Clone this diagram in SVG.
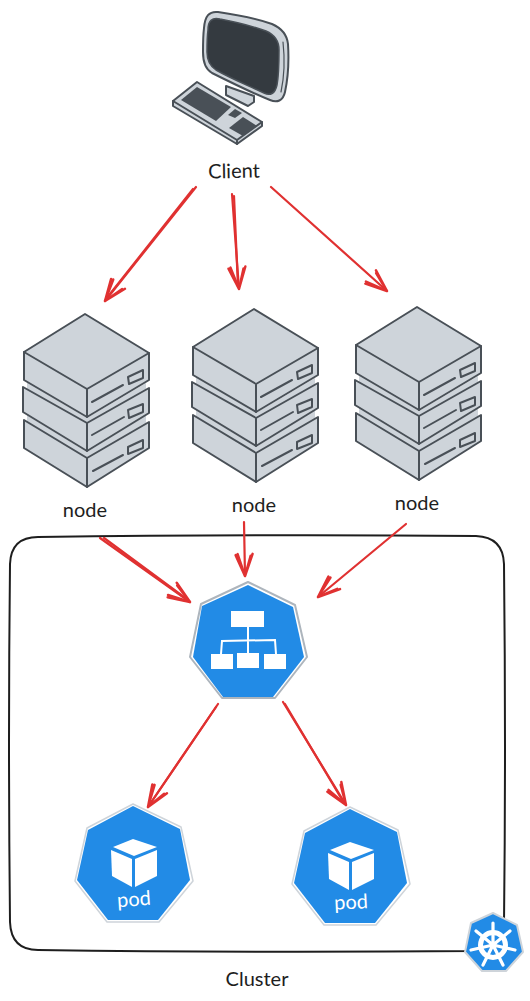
<svg xmlns="http://www.w3.org/2000/svg" xmlns:xlink="http://www.w3.org/1999/xlink" width="530" height="1001" viewBox="0 0 530 1001">
<style>
.lbl{font-family:"Lato","Liberation Sans",sans-serif;font-size:20px;fill:#1e1e1e;text-anchor:middle}
.podl{font-family:"Lato","Liberation Sans",sans-serif;font-size:20px;fill:#fff;text-anchor:middle}
.sv{fill:#ced4da;stroke:#495057;stroke-width:2;stroke-linejoin:round;stroke-linecap:round}
.svl{fill:none;stroke:#495057;stroke-width:2;stroke-linejoin:round;stroke-linecap:round}
.gap{fill:#ced4da}
.arrow{fill:none;stroke:#e03131;stroke-width:2.2;stroke-linecap:round;stroke-linejoin:round}
.blue{fill:#228be6}
.w{fill:#fff}
.wl{fill:none;stroke:#fff;stroke-width:2}
.edge{fill:none;stroke:#adb5bd;stroke-width:1.5;stroke-linejoin:round}
.dk{fill:#495057}
</style>
<defs>
<marker id="ah" viewBox="-24 -12 28 24" refX="0" refY="0" markerWidth="28" markerHeight="24" markerUnits="userSpaceOnUse" orient="auto" overflow="visible">
<path d="M-22,-8 L0,0 L-22,7 M-20,-6 L0,0 L-21,9" fill="none" stroke="#e03131" stroke-width="2.5" stroke-linecap="round" stroke-linejoin="round"/>
</marker>
<g id="server">
<path class="gap" d="M27,382L87,418L146,383L146,392L87,428L27,390Z"/>
<path class="gap" d="M27,415L87,452L146,415L146,425L87,462L27,424Z"/>
<path class="sv" d="M24,420 L87,458 L149,422 L149,448 L87,487 L24,448Z"/>
<path class="svl" d="M87,458V487M93,471L123,455"/>
<path class="sv" d="M128,447L143,440V448L128,454Z"/>
<path class="sv" d="M23,387 L87,423 L149,388 L149,413 L87,451 L23,412Z"/>
<path class="svl" d="M87,423V451M92,435L124,417"/>
<path class="sv" d="M128,410L143,404V412L129,418Z"/>
<path class="sv" d="M85,314 L149,353 L149,380 L87,417 L24,380 L24,352Z"/>
<path class="svl" d="M24,352L87,389L149,353M87,389V417M92,402L123,385"/>
<path class="sv" d="M128,377L143,370V378L129,384Z"/>
</g>
<g id="podicon">
<path class="edge" d="M133,804L181,827L193,881L159,922L107,922L75,881L87,828Z" style="stroke:#ced4da"/>
<path class="blue" d="M133,806L180,829L190,880L158,920L108,920L77,880L88,830Z"/>
<path class="w" d="M133,839L157,847L134,856L113,847Z"/>
<path class="w" d="M111,850L132,859V887L112,876Z"/>
<path class="w" d="M135,859L157,850V876L135,887Z"/>
</g>
</defs>

<g id="cluster"><path d="M38,537Q270,534 476,536Q503,537 504,564Q506,750 504,924Q503,950 476,951Q250,953 38,950Q11,950 10,922Q8,740 10,564Q11,537 38,537Z" fill="none" stroke="#1e1e1e" stroke-width="2"/></g>

<g id="client">
<path class="sv" d="M226,86V95L248,106L254,102L254,96Z"/>
<path d="M204,28C205,16 209,11 218,12C238,15 258,19 272,24C281,28 287,34 288,44C289,60 288,78 285,92C283,101 277,103 270,100C250,92 230,82 212,73C205,69 203,62 203,52C203,44 203,36 204,28Z" fill="#ced4da" stroke="#495057" stroke-width="2"/>
<path d="M208,30C208,21 212,17 220,19C236,22 252,26 266,31C275,35 279,41 279,50C279,62 279,74 277,85C275,94 270,96 264,93C247,85 230,78 216,70C210,66 207,60 207,52C207,44 207,37 208,30Z" fill="#343a40" stroke="#495057" stroke-width="1.5"/>
<path class="svl" style="stroke-width:1.2" d="M283,42C285,60 284,78 281,92"/>
<path class="sv" d="M197,82L262,122L262,126L237,144L173,106L173,101Z"/>
<path class="svl" d="M173,101L237,140L262,122M237,140V144"/>
<path class="dk" d="M181,100L197,87L231,107L216,121Z"/>
<path class="dk" d="M228,115L235,109L242,113L235,118Z"/>
<path class="dk" d="M229,128L243,117L257,126L243,136Z"/>
<text class="lbl" x="234" y="178" transform="rotate(-1 234 172)">Client</text>
</g>

<g id="node1"><use href="#server" xlink:href="#server"/><text class="lbl" x="85" y="517">node</text></g>
<g id="node2"><use href="#server" xlink:href="#server" transform="translate(169,-5)"/><text class="lbl" x="254" y="512">node</text></g>
<g id="node3"><use href="#server" xlink:href="#server" transform="translate(332,-7)"/><text class="lbl" x="417" y="510">node</text></g>

<g id="service">
<path d="M248,582L295,605L307,657L275,698L222,698L190,657L201,604Z" fill="#fff" stroke="#adb5bd" stroke-width="2" stroke-linejoin="round"/>
<path class="blue" d="M248,585L293,607L304,657L273,697L223,697L193,657L202,606Z"/>
<rect class="w" x="231" y="611" width="33" height="16"/>
<path class="wl" d="M248,627V653M221,654L222,641L275,640L276,654"/>
<rect class="w" x="211" y="654" width="22" height="15"/>
<rect class="w" x="237" y="653" width="22" height="15"/>
<rect class="w" x="264" y="654" width="22" height="15"/>
</g>

<g id="pod1"><use href="#podicon" xlink:href="#podicon"/><text class="podl" x="134" y="906" transform="rotate(-4 134 900)">pod</text></g>
<g id="pod2"><use href="#podicon" xlink:href="#podicon" transform="translate(217,3)"/><text class="podl" x="351" y="909" transform="rotate(-3 351 903)">pod</text></g>

<g id="k8s">
<path d="M493,913L517,925L523,952L506,971L482,971L465,952L471,923Z" fill="#228be6" stroke="#ced4da" stroke-width="2" stroke-linejoin="round"/>
<circle cx="493" cy="945" r="12.5" fill="none" stroke="#fff" stroke-width="5"/>
<circle cx="493" cy="945" r="3" fill="#fff"/>
<path d="M493,945V923M493,945L510,931M493,945L515,950M493,945L503,965M493,945L483,965M493,945L471,950M493,945L476,931" stroke="#fff" stroke-width="3.2" stroke-linecap="round" fill="none"/>
</g>

<text id="cluster-label" class="lbl" x="257" y="986">Cluster</text>

<g id="connectors">
<path class="arrow" marker-end="url(#ah)" d="M196,187L105,301"/>
<path class="arrow" d="M193,189L106,299"/>
<path class="arrow" marker-end="url(#ah)" d="M232,194L239,289"/>
<path class="arrow" d="M234,196L238,287"/>
<path class="arrow" marker-end="url(#ah)" d="M271,187L387,291"/>
<path class="arrow" marker-end="url(#ah)" d="M100,538L190,602"/>
<path class="arrow" d="M104,538L188,600"/>
<path class="arrow" marker-end="url(#ah)" d="M244,522L245,576"/>
<path class="arrow" marker-end="url(#ah)" d="M406,524L318,597"/>
<path class="arrow" marker-end="url(#ah)" d="M218,704L148,807"/>
<path class="arrow" d="M216,707L150,804"/>
<path class="arrow" marker-end="url(#ah)" d="M283,702L346,805"/>
<path class="arrow" d="M285,704L344,803"/>
</g>
</svg>
